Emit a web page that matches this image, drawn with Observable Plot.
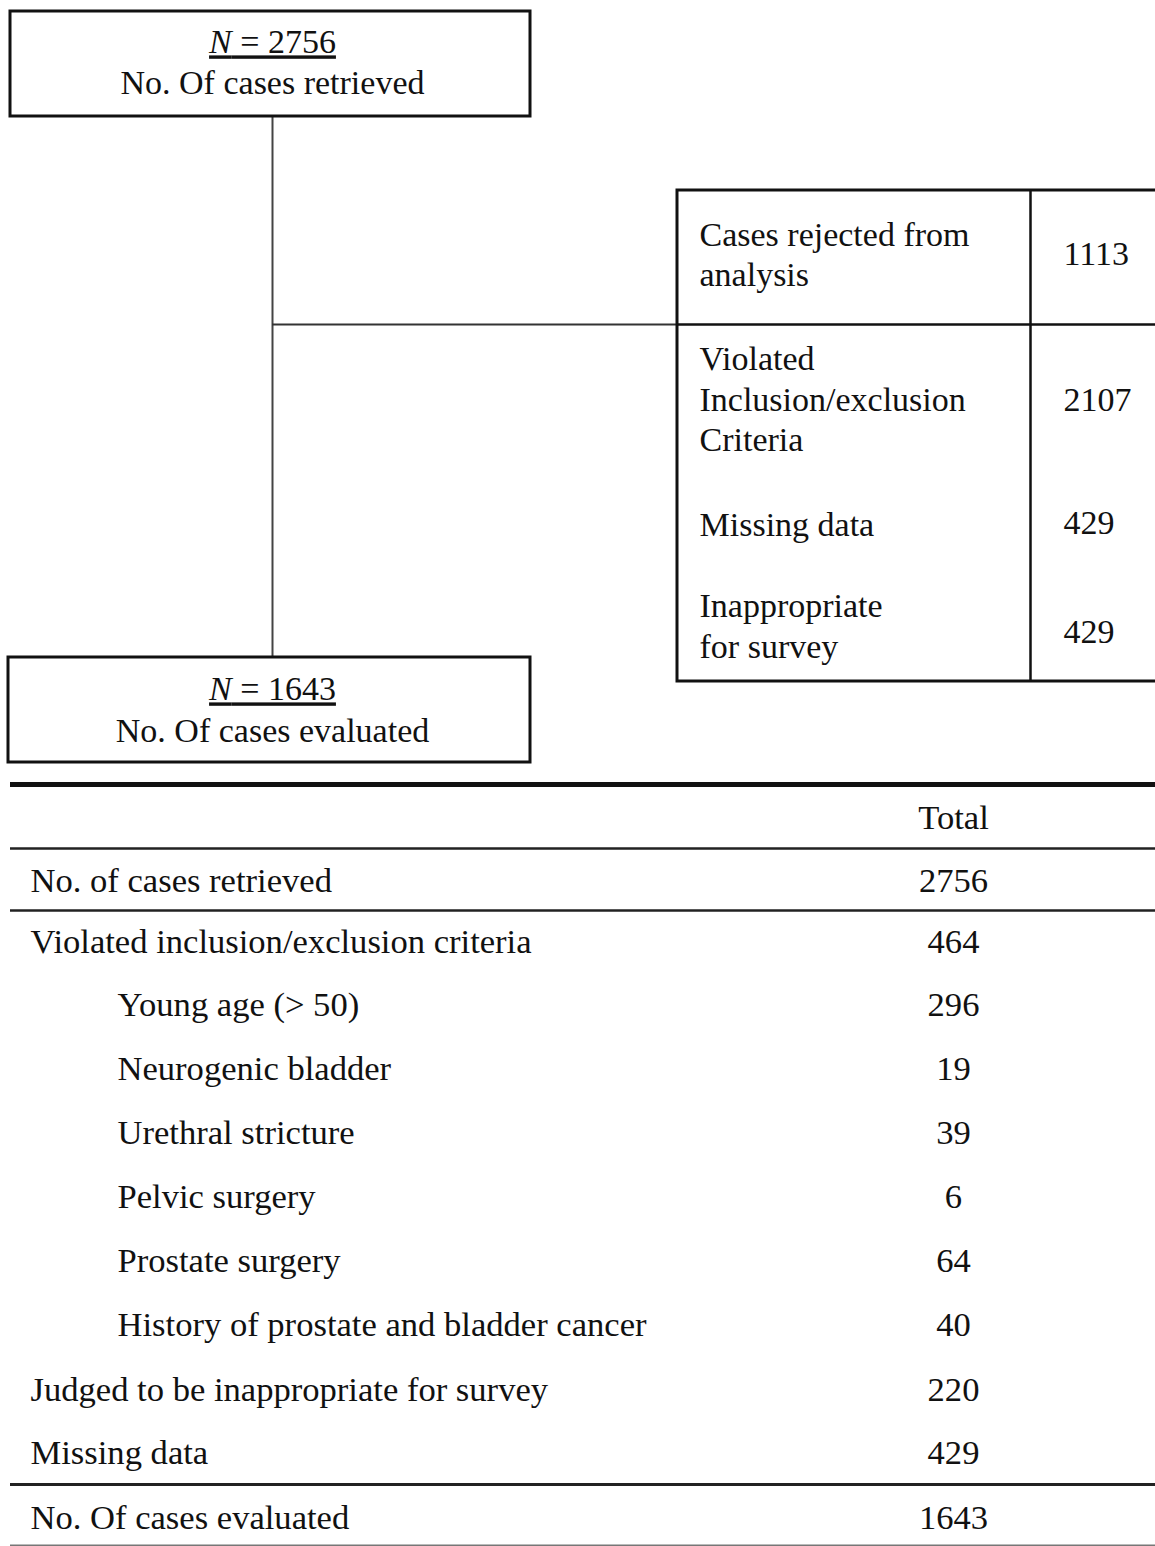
<!DOCTYPE html>
<html>
<head>
<meta charset="utf-8">
<script src="https://cdn.jsdelivr.net/npm/d3@7"></script>
<script src="https://cdn.jsdelivr.net/npm/@observablehq/plot@0.6"></script>
<style>
  html, body { margin: 0; padding: 0; background: #fff; }
  #chart svg { display: block; }
  #chart svg text { font-family: "Liberation Serif", "Times New Roman", serif; }
</style>
</head>
<body>
<div id="chart"></div>
<script>
// ---- Flowchart data ----
const flowCounts = [2756, 1643];
const flowLabels = ["No. Of cases retrieved", "No. Of cases evaluated"];

const rejectLabels = ["Cases rejected from\nanalysis", "Violated\nInclusion/exclusion\nCriteria", "Missing data", "Inappropriate\nfor survey"];
const rejectValues = [1113, 2107, 429, 429];

// ---- Table data ----
const tableHeader = "Total";
const tableLabels = [
  "No. of cases retrieved",
  "Violated inclusion/exclusion criteria",
  "Young age (> 50)",
  "Neurogenic bladder",
  "Urethral stricture",
  "Pelvic surgery",
  "Prostate surgery",
  "History of prostate and bladder cancer",
  "Judged to be inappropriate for survey",
  "Missing data",
  "No. Of cases evaluated"
];
const tableValues = [2756, 464, 296, 19, 39, 6, 64, 40, 220, 429, 1643];
const tableIndent = [0, 0, 1, 1, 1, 1, 1, 1, 0, 0, 0];

// ---- Layout (pixel space of the figure) ----
const W = 1155, H = 1546;
const ink = "#111";
const font = "Liberation Serif, Times New Roman, serif";
const fs = 34;
const fsTable = 34.6;

const boxes = [
  {x1: 10, x2: 530, y1: 11, y2: 116, yN: 42, yL: 83},
  {x1: 8, x2: 530, y1: 657, y2: 762, yN: 689, yL: 731}
].map((b, i) => ({...b, n: flowCounts[i], label: flowLabels[i]}));

const rejectY = [252.5, 397, 522, 624];
const rejectNumY = [254, 400, 523, 632];
const rejects = rejectLabels.map((l, i) => ({label: l, value: rejectValues[i], y: rejectY[i], yv: rejectNumY[i]}));

const rowY = [880, 941, 1004, 1068, 1132, 1196, 1260, 1324, 1389, 1452, 1517];
const rows = tableLabels.map((l, i) => ({label: l, value: tableValues[i], y: rowY[i], x: tableIndent[i] ? 117 : 30}));

const tableRules = [
  {y: 784, w: 5, c: "#111"},
  {y: 848, w: 2.5, c: "#222"},
  {y: 910, w: 2.5, c: "#222"},
  {y: 1484, w: 3, c: "#222"},
  {y: 1545, w: 2, c: "#777"}
];

const chart = Plot.plot({
  width: W,
  height: H,
  margin: 0,
  x: {domain: [0, W], axis: null},
  y: {domain: [0, H], reverse: true, axis: null},
  style: {fontFamily: font, background: "#fff", color: ink},
  marks: [
    // connectors
    Plot.ruleX([272], {y1: 116, y2: 657, stroke: "#444", strokeWidth: 2}),
    Plot.ruleY([324], {x1: 272, x2: 677, stroke: "#333", strokeWidth: 2}),
    // flow boxes
    Plot.rect(boxes, {x1: "x1", x2: "x2", y1: "y1", y2: "y2", fill: "#fff", stroke: "#111", strokeWidth: 3}),
    Plot.text(boxes, {x: 272, y: "yN", text: d => `N = ${d.n}`, fontSize: fs, fill: ink, textAnchor: "middle"}),
    Plot.text(boxes, {x: 272, y: "yL", text: "label", fontSize: fs, fill: ink, textAnchor: "middle"}),
    // rejected table
    Plot.rect([0], {x1: 677, x2: 1162, y1: 190, y2: 681, fill: "none", stroke: "#111", strokeWidth: 3}),
    Plot.ruleX([1030], {y1: 190, y2: 681, stroke: "#111", strokeWidth: 2.5}),
    Plot.ruleY([324], {x1: 677, x2: 1160, stroke: "#111", strokeWidth: 2.5}),
    Plot.text(rejects, {x: 699, y: "y", text: "label", textAnchor: "start", lineHeight: 1.2, fontSize: fs, fill: ink}),
    Plot.text(rejects, {x: 1063, y: "yv", text: d => String(d.value), textAnchor: "start", fontSize: fs, fill: ink}),
    // bottom table
    Plot.ruleY(tableRules, {y: "y", x1: 10, x2: W, stroke: "c", strokeWidth: "w"}),
    Plot.text([tableHeader], {x: 953, y: 817, text: d => d, fontSize: fsTable, fill: ink, textAnchor: "middle"}),
    Plot.text(rows, {x: "x", y: "y", text: "label", textAnchor: "start", fontSize: fsTable, fill: ink}),
    Plot.text(rows, {x: 953, y: "y", text: d => String(d.value), textAnchor: "middle", fontSize: fsTable, fill: ink})
  ]
});

// Italic, underlined "N = ..." headings
d3.select(chart).selectAll("text").each(function() {
  const t = this.textContent;
  if (/^N = \d+$/.test(t)) {
    const num = t.slice(1);
    const sel = d3.select(this);
    sel.text(null).style("text-decoration", "underline");
    sel.append("tspan").attr("font-style", "italic").text("N");
    sel.append("tspan").text(num);
  }
});

document.getElementById("chart").appendChild(chart);
</script>
</body>
</html>
